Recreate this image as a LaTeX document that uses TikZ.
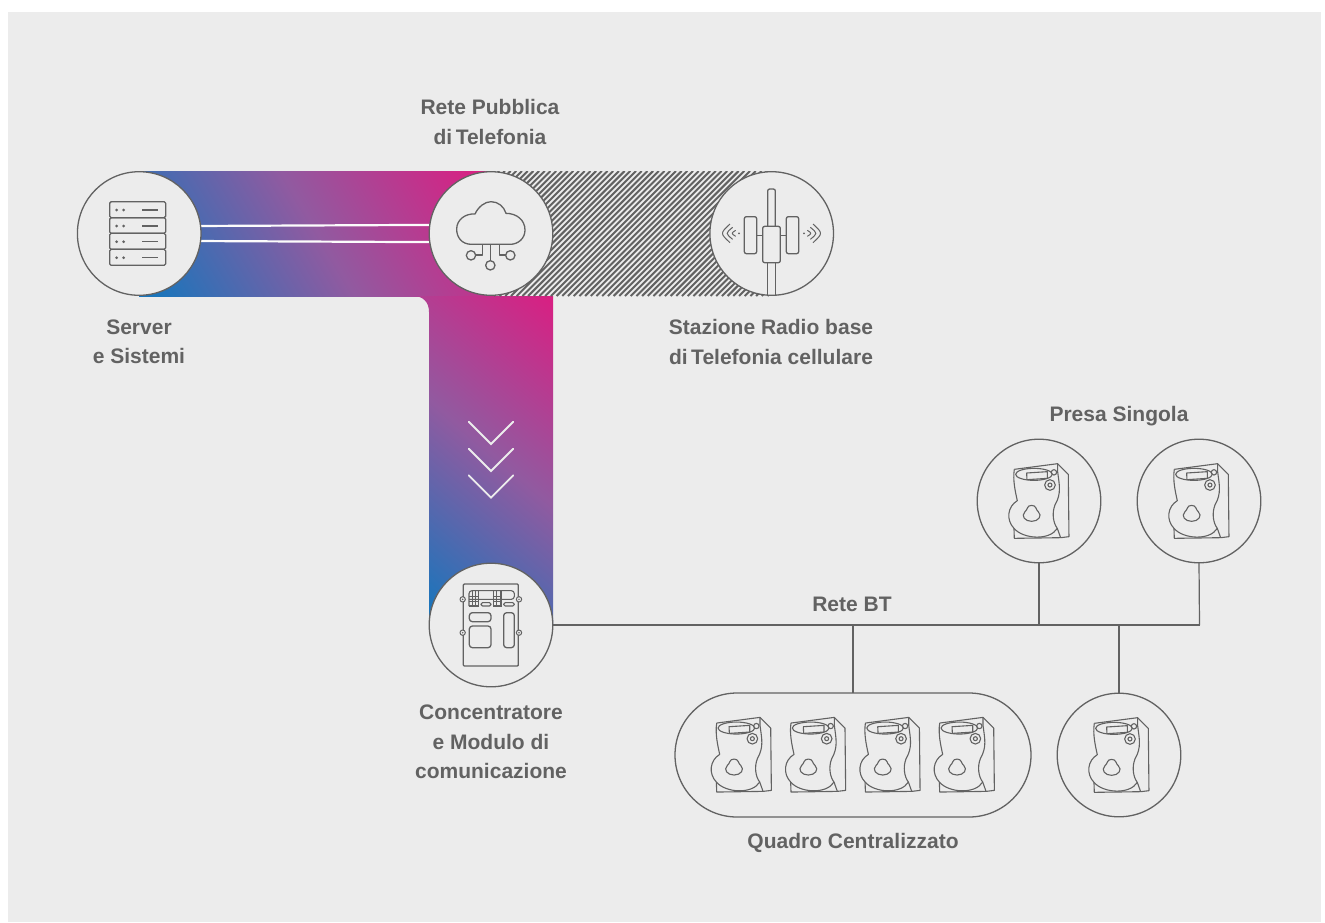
\documentclass[tikz,border=0pt]{standalone}
\usepackage{fontspec}
\setmainfont{Liberation Sans}
\usetikzlibrary{backgrounds}
\definecolor{bgc}{HTML}{ECECEC}
\definecolor{ink}{HTML}{626262}
\definecolor{gblue}{HTML}{1A75BB}
\definecolor{gmid}{HTML}{915AA0}
\definecolor{gpink}{HTML}{D91F82}
\pgfdeclareverticalshading{bandshade}{100bp}{color(0bp)=(gblue); color(37.5bp)=(gblue); color(50bp)=(gmid); color(62.5bp)=(gpink); color(100bp)=(gpink)}
\tikzset{
  circ/.style={circle,draw=ink,line width=1.3pt,fill=bgc,minimum size=123.6pt,inner sep=0pt,outer sep=0pt},
  pillbox/.style={rectangle,rounded corners=62pt,draw=ink,line width=1.3pt,fill=bgc,minimum width=356pt,minimum height=124pt,inner sep=0pt,outer sep=0pt},
  lab/.style={text=ink,font=\fontsize{21}{29.5}\selectfont\bfseries,align=center,inner sep=0pt},
  ico/.style={draw=ink,line width=1.3pt,line join=round},
  wire/.style={draw=ink,line width=1.2pt},
  whl/.style={draw=white!85!bgc,line width=2.2pt},
  chev/.style={draw=bgc,line width=1.8pt,line cap=round,line join=miter},
}
\newcommand{\meterico}[2]{%
\begin{scope}[shift={(#1,#2)},scale=1/3,shift={(-205,-213)}]
\draw[ico,line width=1.1pt] (133,118) -- (263,101) -- (295,133) -- (297,320) -- (272,323) -- (133,325) -- (132,295);
\draw[ico,line width=1.1pt] (263,101) -- (263,125) .. controls (268,165) and (275,190) .. (255,225) .. controls (245,250) and (250,280) .. (262,295) -- (272,323);
\draw[ico,line width=1.1pt] (133,118) .. controls (128,150) and (136,185) .. (142,212) .. controls (112,230) and (108,270) .. (132,295) .. controls (160,328) and (240,332) .. (262,295);
\draw[ico,line width=1.1pt] (192,133) ellipse [x radius=55,y radius=18];
\draw[ico,line width=1.1pt] (170,129) -- (232,125) -- (232,145) -- (171,149) -- cycle;
\draw[ico,line width=1.1pt] (252,127) circle [radius=8];
\draw[ico,line width=1.1pt] (240,165) circle [radius=16];
\draw[ico,line width=1.1pt] (240,165) circle [radius=6];
\draw[ico,line width=1.1pt] (185,226) .. controls (200,226) and (197,240) .. (205,245) .. controls (218,258) and (205,274) .. (185,274) .. controls (165,274) and (152,258) .. (165,245) .. controls (173,240) and (170,226) .. (185,226) -- cycle;
\end{scope}}
\begin{document}
\begin{tikzpicture}[x=1pt,y=-1pt]
\useasboundingbox (0,0) rectangle (1325,922);
% main nodes
\node[circ] (srv) at (139.2,233.5) {};
\node[circ] (cld) at (491,233.5) {};
\node[circ] (ant) at (771.7,233.5) {};
\node[circ] (con) at (491,625) {};
\node[circ] (p1) at (1039,501) {};
\node[circ] (p2) at (1199,501) {};
\node[circ] (p3) at (1119,755) {};
\node[pillbox] (quad) at (853,755) {};
\coordinate (busend) at (1199.5,625);
\begin{scope}[on background layer]
\fill[white] (0,0) rectangle (1325,922);
\fill[bgc] (8,12) rectangle (1321,922);
% gradient: horizontal arm
\begin{scope}
\clip (139,171) rectangle (491,296);
\shade[shading=bandshade,shading angle=-59.3] (315.6-343,230-343) rectangle (315.6+343,230+343);
\end{scope}
% gradient: vertical arm
\begin{scope}
\clip (553,296) -- (553,625) -- (429,625) -- (429,312) .. controls (429,302) and (423,296) .. (413,296) -- cycle;
\shade[shading=bandshade,shading angle=-40.5] (491-319,453-319) rectangle (491+319,453+319);
\end{scope}
% hatch
\begin{scope}
\clip (491,171) rectangle (772,296);
\foreach \i in {0,...,75} {
  \draw[ink,line width=2pt] (340+\i*5.7,296) -- (340+\i*5.7+125,171);
}
\end{scope}
\draw[whl] (srv.7.44) -- (cld.172.56);
\draw[whl] (srv.-7.44) -- (cld.-172.56);
\end{scope}
% chevrons
\draw[chev] (468.7,421.7) -- (491,444) -- (513.3,421.7);
\draw[chev] (468.7,448.7) -- (491,471) -- (513.3,448.7);
\draw[chev] (468.7,475.3) -- (491,497.7) -- (513.3,475.3);
% bus
\draw[wire] (con.east) -- (busend);
\draw[wire] (p1.south) -- (p1.south |- busend);
\draw[wire] (p2.south) -- (busend);
\draw[wire] (p3.north) -- (p3.north |- busend);
\draw[wire] (quad.north) -- (quad.north |- busend);
% server icon
\begin{scope}[shift={(60,150)},scale=1/3]
\foreach \a/\b in {155/203,203/250,250/298,298/346} {
  \draw[ico,rounded corners=1.5pt] (149,\a) rectangle (317,\b);
  \fill[ink] (170,\a+25) circle [radius=4.5];
  \fill[ink] (191,\a+25) circle [radius=4.5];
  \draw[ico] (247,\a+25) -- (295,\a+25);
}
\end{scope}
% cloud icon
\begin{scope}[shift={(410,150)},scale=1/3]
\draw[ico] (185,283) .. controls (155,283) and (140,262) .. (140,237) .. controls (140,210) and (165,190) .. (195,192) .. controls (205,170) and (225,155) .. (243,155) .. controls (265,155) and (282,170) .. (288,190) .. controls (320,190) and (345,210) .. (345,240) .. controls (345,265) and (325,283) .. (300,283) -- cycle;
\draw[ico] (241,283) -- (241,332);
\draw[ico] (241,346) circle [radius=14];
\draw[ico] (218,283) -- (218,315) -- (197,315);
\draw[ico] (183,316) circle [radius=14];
\draw[ico] (268,283) -- (268,315) -- (287,315);
\draw[ico] (301,316) circle [radius=14];
% antenna icon
\draw[ico,rounded corners=2pt] (1073,229) -- (1073,117) -- (1096,117) -- (1096,229);
\draw[ico,rounded corners=2pt] (1058,229) rectangle (1111,338);
\draw[ico] (1073,338) -- (1073,435);
\draw[ico] (1096,338) -- (1096,435);
\draw[ico,rounded corners=2pt] (1003,200) rectangle (1040,311);
\draw[ico,rounded corners=2pt] (1129,200) rectangle (1166,311);
\draw[ico,line width=1pt] (1040,255) -- (1058,255);
\draw[ico,line width=1pt] (1111,255) -- (1129,255);
\draw[ico,line width=1pt] (960,222) .. controls (930,250) .. (960,278);
\draw[ico,line width=1pt] (968,232) .. controls (946,250) .. (968,268);
\draw[ico,line width=1pt] (977,241) .. controls (963,250) .. (977,259);
\fill[ink] (987,250) circle [radius=3];
\draw[ico,line width=1pt] (1209,222) .. controls (1239,250) .. (1209,278);
\draw[ico,line width=1pt] (1201,232) .. controls (1223,250) .. (1201,268);
\draw[ico,line width=1pt] (1192,241) .. controls (1206,250) .. (1192,259);
\fill[ink] (1182,250) circle [radius=3];
\end{scope}
% concentrator icon
\begin{scope}[shift={(410,560)},scale=1/3]
\draw[ico,rounded corners=1pt] (160,72) rectangle (325,318);
\foreach \px/\py in {158/118,327/118,158/218,327/218} {
  \draw[ico,fill=bgc,line width=1pt] (\px,\py) circle [radius=8];
  \fill[ink] (\px,\py) circle [radius=2.5];
}
\draw[ico,line width=1.1pt,rounded corners=3pt] (177,138) -- (177,92) -- (313,92) -- (313,118) -- (177,118);
\foreach \vx in {187,196,206,250,260,273} \draw[ico,line width=1.1pt] (\vx,92) -- (\vx,138);
\draw[ico,line width=1.1pt] (177,110) -- (207,110);
\draw[ico,line width=1.1pt] (177,125) -- (207,125);
\draw[ico,line width=1.1pt] (248,110) -- (275,110);
\draw[ico,line width=1.1pt] (248,125) -- (275,125);
\draw[ico,line width=1.1pt] (177,138) -- (206,138);
\draw[ico,line width=1.1pt] (248,138) -- (275,138);
\draw[ico,line width=1.1pt,rounded corners=1.5pt] (213,128) rectangle (243,138);
\draw[ico,line width=1.1pt,rounded corners=1.5pt] (281,128) rectangle (313,138);
\draw[ico,rounded corners=3pt] (178,158) rectangle (243,185);
\draw[ico,rounded corners=3pt] (178,198) rectangle (243,263);
\draw[ico,rounded corners=3pt] (281,158) rectangle (313,263);
\end{scope}
% meters
\meterico{1038.3}{501}
\meterico{1198.3}{501}
\meterico{1118.3}{755}
\meterico{740.7}{754.7}
\meterico{815}{754.7}
\meterico{889.4}{754.7}
\meterico{963.7}{754.7}
% labels
\node[lab] (l1) at (490,122) {Rete Pubblica\\di\,Telefonia};
\node[lab] (l2) at (139,342) {Server\\e Sistemi};
\node[lab] (l3) at (771,342) {Stazione Radio base\\di\,Telefonia cellulare};
\node[lab] (l4) at (1119,416) {Presa Singola};
\node[lab] (l5) at (852,604) {Rete BT};
\node[lab] (l6) at (491,742) {Concentratore\\e Modulo di\\comunicazione};
\node[lab] (l7) at (853,843) {Quadro Centralizzato};
\end{tikzpicture}
\end{document}
